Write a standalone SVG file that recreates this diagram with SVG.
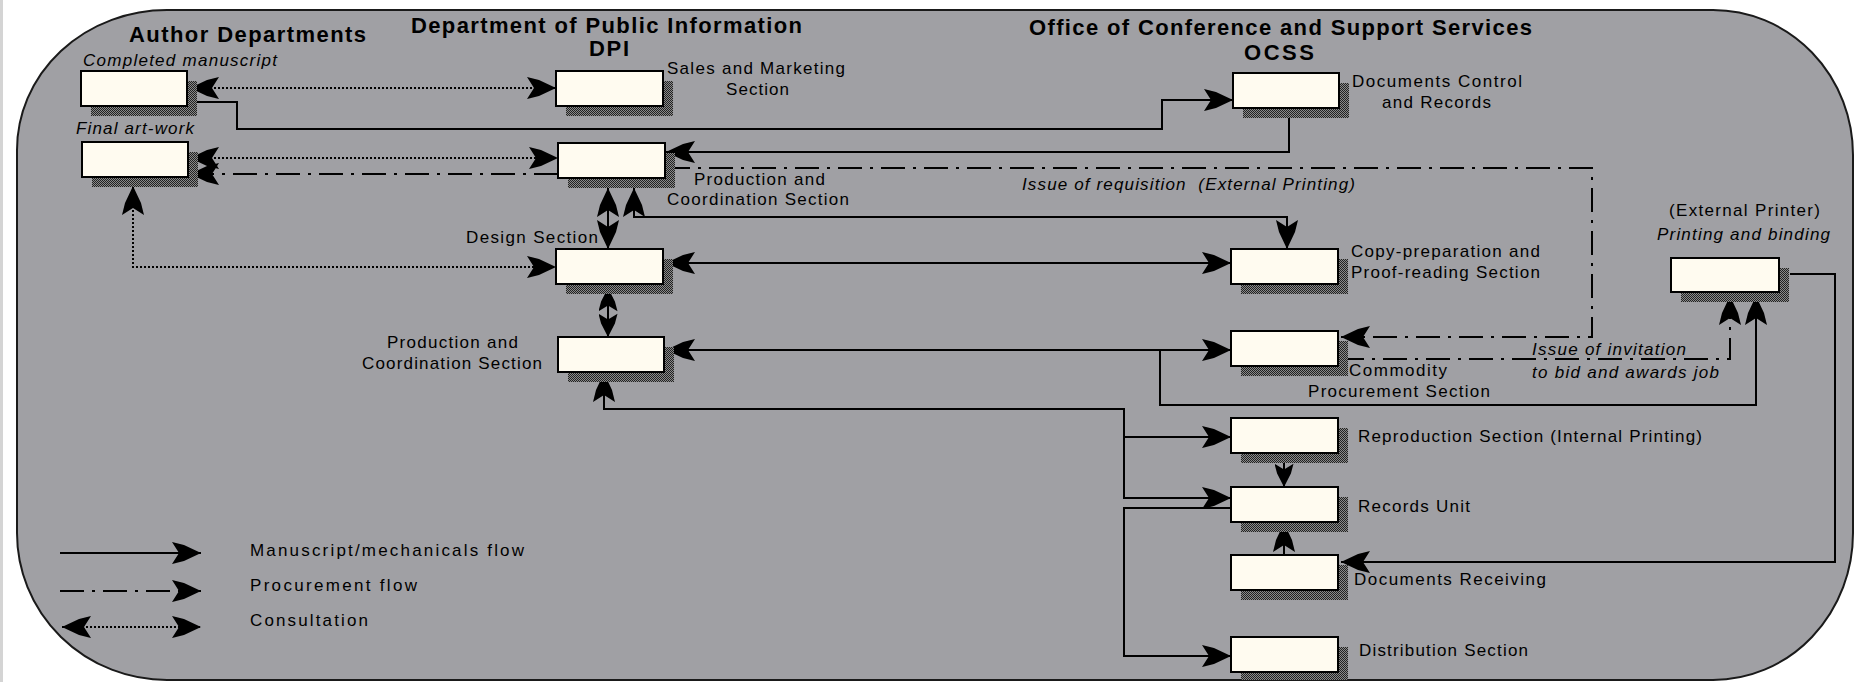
<svg xmlns="http://www.w3.org/2000/svg" width="1868" height="682" viewBox="0 0 1868 682">
<style>
.bg{fill:#a0a0a4;stroke:#1a1a1a;stroke-width:2}
.box{fill:#fffbf0;stroke:#000;stroke-width:2}
.sh{fill:url(#hatch)}
.solid{fill:none;stroke:#000;stroke-width:2}
.dot{fill:none;stroke:#000;stroke-width:2;stroke-dasharray:2 2}
.dd{fill:none;stroke:#000;stroke-width:2;stroke-dasharray:24 8 3 8}
.t{font-family:"Liberation Sans",Arial,sans-serif;font-size:17px;fill:#000}
.i{font-style:italic}
.h{font-family:"Liberation Sans",Arial,sans-serif;font-size:22px;font-weight:bold;fill:#000}
</style>
<defs>
<pattern id="hatch" width="2" height="2" patternUnits="userSpaceOnUse">
<rect width="2" height="2" fill="#8a8a8a"/>
<rect width="1" height="1" fill="#222"/>
<rect x="1" y="1" width="1" height="1" fill="#222"/>
</pattern>
<marker id="ah" viewBox="0 0 30 22" refX="30" refY="11" markerWidth="30" markerHeight="22" markerUnits="userSpaceOnUse" orient="auto-start-reverse">
<path d="M30,11 L13,3 L1,0 L8,11 L1,22 L13,19 Z" fill="#000"/>
</marker>
<marker id="ahs" viewBox="0 0 30 22" refX="30" refY="11" markerWidth="24" markerHeight="19" markerUnits="userSpaceOnUse" orient="auto-start-reverse" preserveAspectRatio="none">
<path d="M30,11 L13,3 L1,0 L8,11 L1,22 L13,19 Z" fill="#000"/>
</marker>
</defs>
<rect width="1868" height="682" fill="#fff"/>
<rect x="0" y="0" width="3" height="682" fill="#d4d4d4"/>
<path class="bg" d="M167,10 H1713 A140,145 0 0 1 1853,155 V533 A140,147 0 0 1 1713,680 H167 A150,147 0 0 1 17,533 V150 A150,140 0 0 1 167,10 Z"/>

<g id="titles">
<text class="h" x="129" y="42" textLength="237">Author Departments</text>
<text class="h" x="411" y="33" textLength="391">Department of Public Information</text>
<text class="h" x="589" y="56" textLength="40">DPI</text>
<text class="h" x="1029" y="35" textLength="503">Office of Conference and Support Services</text>
<text class="h" x="1244" y="60" textLength="70">OCSS</text>
</g>

<g id="connectors">
<path class="dot" d="M190,88 H556" marker-start="url(#ah)" marker-end="url(#ah)"/>
<path class="solid" d="M187,102 H237 V129 H1162 V100 H1233" marker-end="url(#ah)"/>
<path class="dot" d="M190,158 H558" marker-start="url(#ah)" marker-end="url(#ah)"/>
<path class="dd" d="M558,174 H190" marker-end="url(#ah)"/>
<path class="solid" d="M1289,108 V152 H666" marker-end="url(#ah)"/>
<path class="dd" d="M666,168 H1592 V337 H1341" marker-end="url(#ah)"/>
<path class="solid" d="M608,188 V249" marker-start="url(#ah)" marker-end="url(#ah)"/>
<path class="solid" d="M634,188 V217 H1287 V249" marker-start="url(#ah)" marker-end="url(#ah)"/>
<path class="dot" d="M133,186 V267 H556" marker-start="url(#ah)" marker-end="url(#ah)"/>
<path class="solid" d="M666,263 H1231" marker-start="url(#ah)" marker-end="url(#ah)"/>
<path class="solid" d="M608,288 V337" marker-start="url(#ahs)" marker-end="url(#ahs)"/>
<path class="solid" d="M666,350 H1231" marker-start="url(#ah)" marker-end="url(#ah)"/>
<path class="solid" d="M1160,350 V405 H1756 V296" marker-end="url(#ah)"/>
<path class="dd" d="M1340,359 H1730 V296" marker-end="url(#ah)"/>
<path class="solid" d="M604,373 V409 H1124 V498 H1231" marker-start="url(#ah)" marker-end="url(#ah)"/>
<path class="solid" d="M1124,437 H1231" marker-end="url(#ah)"/>
<path class="solid" d="M1231,508 H1124 V656 H1231" marker-end="url(#ah)"/>
<path class="solid" d="M1284,455 V487" marker-end="url(#ahs)"/>
<path class="solid" d="M1284,555 V523" marker-end="url(#ah)"/>
<path class="solid" d="M1790,274 H1835 V562 H1341" marker-end="url(#ah)"/>
</g>

<g id="completed-manuscript">
<rect class="sh" x="91" y="81" width="106" height="35"/>
<rect class="box" x="81" y="71" width="106" height="35"/>
<text class="t i" x="83" y="66" textLength="194">Completed manuscript</text>
</g>
<g id="final-artwork">
<rect class="sh" x="92" y="152" width="106" height="35"/>
<rect class="box" x="82" y="142" width="106" height="35"/>
<text class="t i" x="76" y="134" textLength="118">Final art-work</text>
</g>
<g id="sales-marketing">
<rect class="sh" x="566" y="81" width="107" height="35"/>
<rect class="box" x="556" y="71" width="107" height="35"/>
<text class="t" x="667" y="74" textLength="178">Sales and Marketing</text>
<text class="t" x="726" y="95" textLength="63">Section</text>
</g>
<g id="production-coordination-top">
<rect class="sh" x="568" y="153" width="107" height="35"/>
<rect class="box" x="558" y="143" width="107" height="35"/>
<text class="t" x="694" y="185" textLength="131">Production and</text>
<text class="t" x="667" y="205" textLength="182">Coordination Section</text>
</g>
<g id="design-section">
<rect class="sh" x="566" y="259" width="107" height="35"/>
<rect class="box" x="556" y="249" width="107" height="35"/>
<text class="t" x="466" y="243" textLength="132">Design Section</text>
</g>
<g id="production-coordination-lower">
<rect class="sh" x="568" y="347" width="106" height="35"/>
<rect class="box" x="558" y="337" width="106" height="35"/>
<text class="t" x="387" y="348" textLength="131">Production and</text>
<text class="t" x="362" y="369" textLength="180">Coordination Section</text>
</g>
<g id="documents-control">
<rect class="sh" x="1243" y="83" width="106" height="35"/>
<rect class="box" x="1233" y="73" width="106" height="35"/>
<text class="t" x="1352" y="87" textLength="170">Documents Control</text>
<text class="t" x="1382" y="108" textLength="109">and Records</text>
</g>
<g id="requisition-label">
<text class="t i" x="1022" y="190" textLength="333" xml:space="preserve">Issue of requisition  (External Printing)</text>
</g>
<g id="copy-preparation">
<rect class="sh" x="1241" y="259" width="107" height="35"/>
<rect class="box" x="1231" y="249" width="107" height="35"/>
<text class="t" x="1351" y="257" textLength="189">Copy-preparation and</text>
<text class="t" x="1351" y="278" textLength="189">Proof-reading Section</text>
</g>
<g id="commodity-procurement">
<rect class="sh" x="1241" y="341" width="107" height="35"/>
<rect class="box" x="1231" y="331" width="107" height="35"/>
<text class="t" x="1349" y="376" textLength="98">Commodity</text>
<text class="t" x="1308" y="397" textLength="182">Procurement Section</text>
</g>
<g id="invitation-label">
<text class="t i" x="1532" y="355" textLength="154">Issue of invitation</text>
<text class="t i" x="1532" y="378" textLength="187">to bid and awards job</text>
</g>
<g id="external-printer">
<rect class="sh" x="1681" y="268" width="108" height="34"/>
<rect class="box" x="1671" y="258" width="108" height="34"/>
<text class="t" x="1669" y="216" textLength="151">(External Printer)</text>
<text class="t i" x="1657" y="240" textLength="173">Printing and binding</text>
</g>
<g id="reproduction">
<rect class="sh" x="1241" y="428" width="107" height="35"/>
<rect class="box" x="1231" y="418" width="107" height="35"/>
<text class="t" x="1358" y="442" textLength="344">Reproduction Section (Internal Printing)</text>
</g>
<g id="records-unit">
<rect class="sh" x="1241" y="497" width="107" height="35"/>
<rect class="box" x="1231" y="487" width="107" height="35"/>
<text class="t" x="1358" y="512" textLength="112">Records Unit</text>
</g>
<g id="documents-receiving">
<rect class="sh" x="1241" y="565" width="107" height="35"/>
<rect class="box" x="1231" y="555" width="107" height="35"/>
<text class="t" x="1354" y="585" textLength="192">Documents Receiving</text>
</g>
<g id="distribution">
<rect class="sh" x="1241" y="647" width="107" height="33"/>
<rect class="box" x="1231" y="637" width="107" height="35"/>
<text class="t" x="1359" y="656" textLength="169">Distribution Section</text>
</g>

<g id="legend">
<path class="solid" d="M60,553 H201" marker-end="url(#ah)"/>
<path class="dd" d="M60,591 H201" marker-end="url(#ah)"/>
<path class="dot" d="M62,627 H201" marker-start="url(#ah)" marker-end="url(#ah)"/>
<text class="t" x="250" y="556" textLength="274">Manuscript/mechanicals flow</text>
<text class="t" x="250" y="591" textLength="167">Procurement flow</text>
<text class="t" x="250" y="626" textLength="118">Consultation</text>
</g>
</svg>
